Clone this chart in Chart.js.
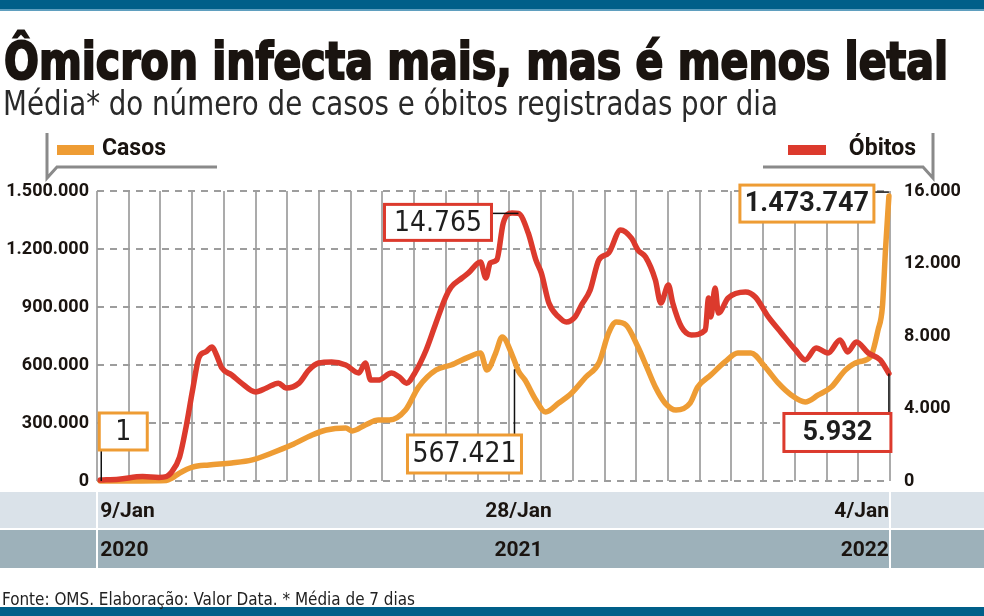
<!DOCTYPE html>
<html>
<head>
<meta charset="utf-8">
<script src="https://cdn.jsdelivr.net/npm/chart.js@4.4.1/dist/chart.umd.min.js"></script>
<style>
  html, body { margin: 0; padding: 0; background: #fff; }
  #wrap { position: relative; width: 984px; height: 616px; overflow: hidden; }
  #myChart { position: absolute; left: 0; top: 0; }
  .bar { position: absolute; left: 0; width: 984px; background: #005f89; }
  .txt { position: absolute; white-space: nowrap; transform-origin: 0 0; line-height: 1; display: inline-block; }
  #title { left: 4px; top: 32px; font: bold 51px "Liberation Sans Narrow", "DejaVu Sans Condensed", sans-serif; color: #1a1410; -webkit-text-stroke: 2px #1a1410; }
  #subtitle { left: 3px; top: 84px; font: 300 33px "Liberation Sans Narrow", "DejaVu Sans Condensed", sans-serif; color: #2a2a2a; }
  #source { left: 2px; top: 589px; font: 17px "Liberation Sans Narrow", "DejaVu Sans Condensed", sans-serif; color: #222; }
</style>
</head>
<body>
<div id="wrap">
  <canvas id="myChart" width="984" height="616"></canvas>
  <div class="bar" style="top:0;height:9px"></div>
  <div class="bar" style="top:9px;height:2px;background:#5f9fbf"></div>
  <div class="bar" style="top:607px;height:9px"></div>
  <span class="txt" id="title" data-w="944">Ômicron infecta mais, mas é menos letal</span>
  <span class="txt" id="subtitle" data-w="775">Média* do número de casos e óbitos registradas por dia</span>
  <span class="txt" id="source" data-w="413">Fonte: OMS. Elaboração: Valor Data. * Média de 7 dias</span>
</div>
<script>
// days counted from 9/Jan/2020
const caseDays = [0, 61, 66, 73, 85, 100, 121, 140, 158, 176, 195, 208, 226, 232, 244, 256, 266, 281, 293, 309, 323, 339, 350, 356, 364, 370, 380, 385, 391, 401, 410, 422, 434, 447, 459, 468, 475, 484, 495, 503, 511, 520, 530, 543, 550, 562, 575, 587, 599, 612, 624, 636, 649, 661, 673, 686, 698, 709, 716, 720, 723, 726];
const cases = [1, 3000, 15000, 41000, 72000, 83000, 93000, 109000, 145000, 186000, 238000, 264000, 274000, 259000, 290000, 315000, 315000, 367000, 486000, 574000, 600000, 641000, 662000, 574000, 662000, 745000, 640000, 567421, 522000, 419000, 357000, 403000, 455000, 538000, 610000, 766000, 822000, 807000, 693000, 590000, 486000, 403000, 367000, 403000, 486000, 548000, 616000, 662000, 662000, 590000, 507000, 445000, 409000, 445000, 486000, 574000, 616000, 641000, 781000, 900000, 1210000, 1473747];

const deathDays = [0, 17, 39, 54, 61, 65, 73, 79, 85, 91, 97, 103, 107, 112, 121, 130, 143, 153, 164, 171, 183, 192, 201, 213, 226, 238, 244, 249, 256, 268, 275, 282, 290, 300, 309, 318, 323, 333, 339, 350, 355, 359, 365, 371, 379, 385, 394, 401, 406, 413, 422, 429, 437, 443, 451, 459, 468, 479, 489, 495, 502, 511, 516, 523, 527, 535, 544, 557, 560, 562, 566, 569, 578, 594, 603, 615, 627, 640, 649, 659, 670, 681, 688, 696, 707, 718, 726];
const deaths = [50, 100, 250, 200, 250, 440, 1320, 2980, 5020, 6840, 7120, 7390, 6950, 6230, 5850, 5400, 4910, 5130, 5400, 5130, 5400, 6120, 6510, 6570, 6400, 5960, 6510, 5570, 5570, 5960, 5750, 5400, 6010, 7230, 8720, 10150, 10700, 11200, 11480, 12080, 11200, 12030, 12200, 14240, 14790, 14765, 13680, 12200, 11480, 9820, 9050, 8770, 9050, 9710, 10540, 12200, 12580, 13850, 13400, 12740, 12360, 11090, 9820, 10810, 9820, 8500, 8060, 8330, 10100, 9050, 10650, 9270, 10100, 10430, 10150, 9050, 8170, 7230, 6680, 7340, 7060, 7780, 7120, 7670, 7060, 6680, 5932];

const dateTicks = [0, 385, 726];
const dateLabels = [['9/Jan', '2020'], ['28/Jan', '2021'], ['4/Jan', '2022']];
const caseTicks = [0, 300000, 600000, 900000, 1200000, 1500000];
const deathTicks = [0, 4000, 8000, 12000, 16000];

const ORANGE = '#ee9c34';
const RED = '#dc3a2d';
const fmt = v => String(v).replace(/\B(?=(\d{3})+(?!\d))/g, '.');

const X_MIN = -3, X_MAX = 727, GRID_STEPS = 25;

// fit headline texts to the width they take in the print
document.querySelectorAll('.txt').forEach(el => {
  const w = el.getBoundingClientRect().width;
  el.style.transform = 'scaleX(' + (el.dataset.w / w) + ')';
});

const bands = {
  id: 'bands',
  beforeDraw(chart) {
    const ctx = chart.ctx;
    const a = chart.chartArea;
    ctx.save();
    ctx.fillStyle = '#dae2e9';
    ctx.fillRect(0, a.bottom + 11, 984, 36);
    ctx.fillStyle = '#9db1ba';
    ctx.fillRect(0, a.bottom + 49, 984, 38);
    ctx.fillStyle = '#fff';
    ctx.fillRect(a.left - 1, a.bottom + 11, 2, 76);
    ctx.fillRect(a.right - 1, a.bottom + 11, 2, 76);
    ctx.restore();
  }
};

const legendBrackets = {
  id: 'legendBrackets',
  afterDraw(chart) {
    const ctx = chart.ctx;
    const ds = chart.data.datasets;
    ctx.save();
    ctx.strokeStyle = '#8a8a8a';
    ctx.lineWidth = 3;
    ctx.beginPath();
    ctx.moveTo(47, 133); ctx.lineTo(47, 178); ctx.lineTo(57, 167); ctx.lineTo(217, 167);
    ctx.moveTo(933, 133); ctx.lineTo(933, 178); ctx.lineTo(923, 167); ctx.lineTo(763, 167);
    ctx.stroke();
    ctx.font = 'bold 23px Roboto';
    ctx.textBaseline = 'middle';
    ctx.fillStyle = ds[1].borderColor;
    ctx.fillRect(57, 145, 37, 10);
    ctx.fillStyle = ds[0].borderColor;
    ctx.fillRect(788, 145, 38, 10);
    ctx.fillStyle = '#1a1410';
    ctx.textAlign = 'left';
    ctx.fillText(ds[1].label, 102, 149);
    ctx.textAlign = 'right';
    ctx.fillText(ds[0].label, 916, 149);
    ctx.restore();
  }
};

const callouts = {
  id: 'callouts',
  afterDatasetsDraw(chart) {
    const ctx = chart.ctx;
    const x = chart.scales.x, yl = chart.scales.y, yr = chart.scales.y1;
    const nC = cases.length - 1, nD = deaths.length - 1;
    const box = (l, t, w, h, color, text, font) => {
      ctx.fillStyle = '#fff';
      ctx.fillRect(l, t, w, h);
      ctx.strokeStyle = color;
      ctx.lineWidth = 3;
      ctx.strokeRect(l, t, w, h);
      ctx.fillStyle = '#1e1e1e';
      ctx.font = font;
      ctx.textAlign = 'center';
      ctx.textBaseline = 'middle';
      ctx.fillText(text, l + w / 2, t + h / 2 + 1);
    };
    const line = (x1, y1, x2, y2) => {
      ctx.strokeStyle = '#111';
      ctx.lineWidth = 1.5;
      ctx.beginPath(); ctx.moveTo(x1, y1); ctx.lineTo(x2, y2); ctx.stroke();
    };
    const light = '28px "Liberation Sans Narrow", "DejaVu Sans Condensed", sans-serif';
    const bold = 'bold 27px Roboto';
    ctx.save();
    // first case
    let px = x.getPixelForValue(caseDays[0]), py = yl.getPixelForValue(cases[0]);
    line(px + 1, py, px + 1, py - 30);
    box(px - 1, py - 68, 48, 37, ORANGE, fmt(cases[0]), light);
    // death peak on 28/Jan/2021
    const iPeak = deathDays.indexOf(385);
    px = x.getPixelForValue(deathDays[iPeak]); py = yr.getPixelForValue(deaths[iPeak]);
    line(px - 27, py, px, py);
    box(px - 134, py - 9, 107, 36, RED, fmt(deaths[iPeak]), light);
    // cases on the same day
    const iC = caseDays.indexOf(385);
    px = x.getPixelForValue(caseDays[iC]); py = yl.getPixelForValue(cases[iC]);
    line(px - 4, py - 2, px - 4, 435);
    box(px - 111, 435, 114, 38, ORANGE, fmt(cases[iC]), light);
    // last values
    px = x.getPixelForValue(caseDays[nC]); py = yl.getPixelForValue(cases[nC]);
    line(px - 15, py - 4, px, py - 4);
    box(px - 149, py - 11, 134, 37, ORANGE, fmt(cases[nC]), bold);
    px = x.getPixelForValue(deathDays[nD]); py = yr.getPixelForValue(deaths[nD]);
    line(px, py, px, py + 40);
    box(px - 105, py + 40, 107, 38, RED, fmt(deaths[nD]), bold);
    ctx.restore();
  }
};

const tickFont = { family: 'Roboto', weight: 'bold', size: 18 };

const config = {
  type: 'line',
  data: {
    datasets: [
      {
        label: 'Óbitos',
        data: deathDays.map((d, i) => ({ x: d, y: deaths[i] })),
        yAxisID: 'y1',
        borderColor: RED,
        borderWidth: 5.5,
        pointRadius: 0,
        cubicInterpolationMode: 'monotone',
        borderCapStyle: 'round',
        borderJoinStyle: 'round',
        clip: 8
      },
      {
        label: 'Casos',
        data: caseDays.map((d, i) => ({ x: d, y: cases[i] })),
        yAxisID: 'y',
        borderColor: ORANGE,
        borderWidth: 5.5,
        pointRadius: 0,
        cubicInterpolationMode: 'monotone',
        borderCapStyle: 'round',
        borderJoinStyle: 'round',
        clip: 8
      }
    ]
  },
  options: {
    responsive: false,
    animation: false,
    layout: { padding: { top: 191, bottom: 48, left: 0, right: 0 } },
    plugins: { legend: { display: false }, tooltip: { enabled: false } },
    scales: {
      x: {
        type: 'linear',
        min: X_MIN,
        max: X_MAX,
        afterBuildTicks(scale) {
          const ticks = [];
          for (let i = 0; i <= GRID_STEPS; i++) ticks.push({ value: X_MIN + i * (X_MAX - X_MIN) / GRID_STEPS });
          scale.ticks = ticks;
        },
        afterFit(scale) { scale.height = 0; },
        ticks: { display: false },
        grid: { color: '#ababab', lineWidth: 2, drawTicks: false },
        border: { display: false }
      },
      xDates: {
        type: 'linear',
        position: 'bottom',
        min: X_MIN,
        max: X_MAX,
        afterBuildTicks(scale) { scale.ticks = dateTicks.map(v => ({ value: v })); },
        afterFit(scale) { scale.height = 87; },
        ticks: {
          align: 'inner',
          maxRotation: 0,
          autoSkip: false,
          padding: 12,
          color: '#1a1410',
          font: { family: 'Roboto', weight: 'bold', size: 21, lineHeight: 1.82 },
          callback: (v) => dateLabels[dateTicks.indexOf(v)]
        },
        grid: { display: false, drawTicks: false },
        border: { display: false }
      },
      y: {
        position: 'left',
        min: 0,
        max: 1500000,
        afterBuildTicks(scale) { scale.ticks = caseTicks.map(v => ({ value: v })); },
        afterFit(scale) { scale.width = 97; },
        ticks: { padding: 8, color: '#1a1410', font: tickFont, callback: v => fmt(v) },
        grid: { color: '#9d9d9d', lineWidth: 2, drawTicks: false },
        border: { display: false, dash: [7, 6] }
      },
      y1: {
        position: 'right',
        min: 0,
        max: 16000,
        afterBuildTicks(scale) { scale.ticks = deathTicks.map(v => ({ value: v })); },
        afterFit(scale) { scale.width = 94; },
        ticks: { padding: 14, color: '#1a1410', font: tickFont, callback: v => fmt(v) },
        grid: { display: false, drawTicks: false },
        border: { display: false }
      }
    }
  },
  plugins: [bands, legendBrackets, callouts]
};

const myChart = new Chart(document.getElementById('myChart'), config);
</script>
</body>
</html>
